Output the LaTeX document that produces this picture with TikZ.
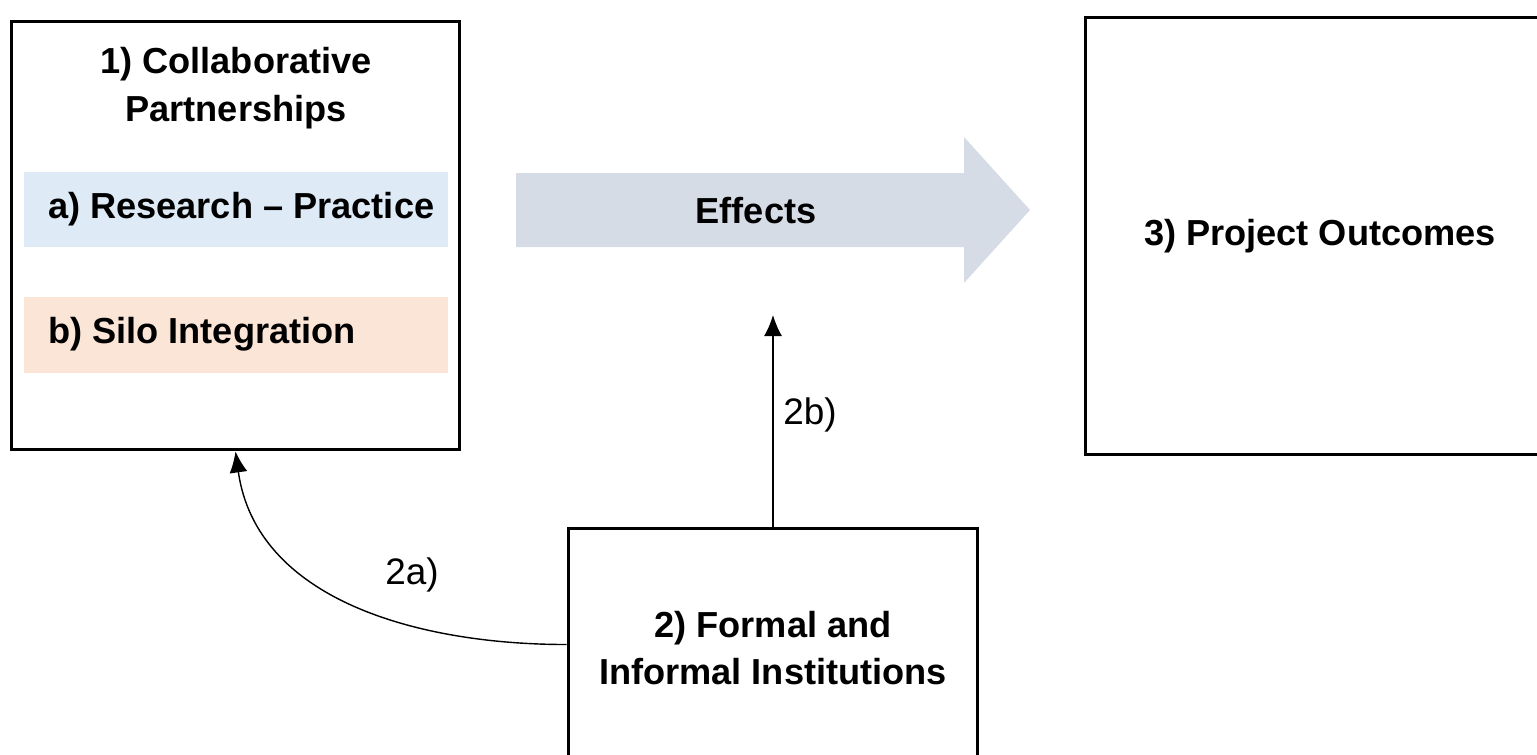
\documentclass[tikz,border=0pt]{standalone}
\usepackage{fontspec}
\setmainfont{Liberation Sans}
\usepackage{tikz}
\usetikzlibrary{arrows.meta}
\usetikzlibrary{positioning}
\definecolor{bandblue}{HTML}{DEEBF7}
\definecolor{bandpeach}{HTML}{FBE5D6}
\definecolor{effectgray}{HTML}{D6DCE5}
\tikzset{
  panel/.style={draw=black, line width=1.7pt, fill=none, inner sep=0pt},
  bold/.style={font=\fontsize{20.6}{27}\selectfont\bfseries, align=center},
  band/.style={minimum width=8.48cm, minimum height=1.52cm, inner sep=0pt},
  bandtext/.style={bold, anchor=west, inner sep=0pt},
  lbl/.style={font=\fontsize{21}{24}\selectfont},
  conn/.style={draw=black, line width=0.8pt, -{Latex[length=0.42cm,width=0.36cm]}}
}

\begin{document}
\begin{tikzpicture}[x=0.02cm,y=-0.02cm]
\useasboundingbox (0,0) rectangle (1537,754);

% boxes
\node[panel, minimum width=8.98cm, minimum height=8.58cm] (box1) at (235.5,235.5) {};
\node[panel, minimum width=9.4cm, minimum height=8.76cm, bold] (box3) at (1320,236) {3) Project Outcomes};
\node[panel, minimum width=8.2cm, minimum height=4.8cm, bold] (box2) at (773,648) {2) Formal and\\Informal Institutions};

\node[bold] (title1) at (236,88) {1) Collaborative\\Partnerships};
\node[band, fill=bandblue] (resprac) at (236,209.5) {};
\node[bandtext] (respractext) at ([xshift=0.48cm]resprac.west) {a) Research -- Practice};
\node[band, fill=bandpeach] (silo) at (236,334.5) {};
\node[bandtext] (silotext) at ([xshift=0.48cm]silo.west) {b) Silo Integration};

% effects arrow
\fill[effectgray] (516,173) -- (964,173) -- (964,137) -- (1030,210) -- (964,283) -- (964,247) -- (516,247) -- cycle;
\node[bold] (effects) at (756,211) {Effects};

% connectors
\coordinate (tip2b) at (773,315);
\draw[conn] (box2.north) -- (tip2b);
\draw[conn] ([yshift=-2.36cm]box2.north west) to[out=180,in=-82] (box1.south);

\node[lbl] (lab2a) at (412,575) {2a)};
\node[lbl] (lab2b) at (810,415) {2b)};

\end{tikzpicture}
\end{document}
